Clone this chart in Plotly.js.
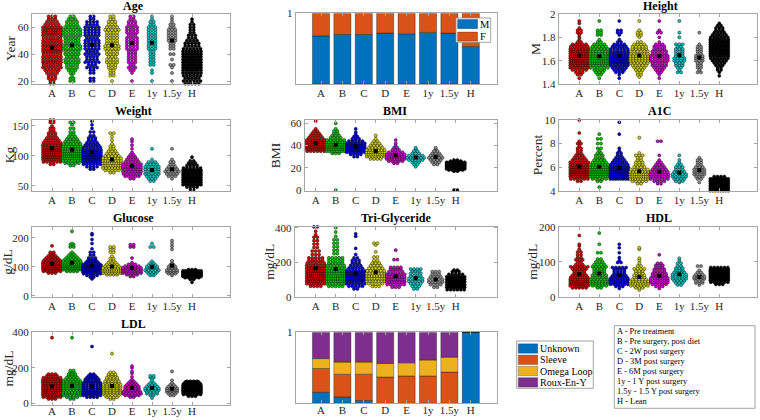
<!DOCTYPE html>
<html><head><meta charset="utf-8">
<script src="https://cdn.plot.ly/plotly-3.0.1.min.js"></script>
<style>html,body{margin:0;padding:0;background:#fff;font-family:"Liberation Serif",serif}#chart{width:760px;height:420px}</style>
</head><body><div id="chart"></div>
<script>
// ---------- DATA ----------
const groups = ['A','B','C','D','E','1y','1.5y','H'];
// swarm data: for each group, flat list of (value, count) pairs
const age = [
 [18,2,20,2,22,3,24,3,26,4,28,5,30,7,32,6,34,8,36,7,38,7,40,6,42,8,44,7,46,8,48,7,50,7,52,6,54,7,56,8,58,8,60,7,62,5,64,4,66,3,68,3,70,2],
 [20,2,22,2,24,1,26,2,28,3,30,4,32,4,34,5,36,5,38,4,40,5,42,5,44,6,46,6,48,5,50,5,52,5,54,6,56,6,58,6,60,5,62,4,64,4,66,3,68,2,70,2],
 [20,2,22,2,26,2,28,2,30,4,32,3,34,5,36,4,38,4,40,5,42,4,44,5,46,5,48,5,50,5,52,4,54,5,56,5,58,5,60,5,62,4,64,4,66,2,68,2,70,2],
 [20,1,24,2,26,2,28,2,30,3,32,3,34,4,36,4,38,3,40,4,42,4,44,5,46,5,48,4,50,4,52,4,54,4,56,4,58,5,60,4,62,3,64,3,66,2,68,2,70,1],
 [20,1,26,1,28,2,30,3,32,2,34,3,36,3,38,3,40,3,42,3,44,4,46,4,48,4,50,4,52,4,54,3,56,4,58,4,60,4,62,3,64,3,66,2,68,2,70,2],
 [20,1,26,1,28,1,32,2,34,2,36,2,38,2,40,2,42,2,44,3,46,3,48,3,50,3,52,3,54,3,56,3,58,3,60,3,62,2,64,2,66,1,68,1,70,1],
 [20,1,26,1,30,1,32,2,36,1,40,2,44,2,46,2,48,2,50,3,52,3,54,3,56,3,58,3,60,2,62,2,64,1,66,1,68,1,70,1],
 [18,5,20,6,22,5,24,6,26,7,28,8,30,9,32,9,34,9,36,10,38,9,40,8,42,7,44,6,46,5,48,5,50,4,52,3,54,3,56,2,58,2,60,2,62,2,64,1,66,1,70,2]
];
const height = [
 [1.45,1,1.48,2,1.50,3,1.52,5,1.54,7,1.56,8,1.58,10,1.60,11,1.62,10,1.64,9,1.66,9,1.68,8,1.70,7,1.72,6,1.74,5,1.76,2,1.78,1,1.80,1,1.82,1,1.84,2,1.86,2,1.88,1,1.92,1,1.94,1],
 [1.45,1,1.48,2,1.50,3,1.52,4,1.54,6,1.56,7,1.58,9,1.60,9,1.62,8,1.64,8,1.66,7,1.68,7,1.70,6,1.72,5,1.74,4,1.76,2,1.78,1,1.82,2,1.84,2,1.86,2,1.94,1],
 [1.45,1,1.48,1,1.50,3,1.52,4,1.54,5,1.56,6,1.58,8,1.60,9,1.62,8,1.64,7,1.66,7,1.68,6,1.70,6,1.72,5,1.74,4,1.76,2,1.78,1,1.82,1,1.84,2,1.86,2,1.94,1],
 [1.46,1,1.48,2,1.50,2,1.52,3,1.54,4,1.56,5,1.58,6,1.60,7,1.62,7,1.64,7,1.66,6,1.68,6,1.70,5,1.72,5,1.74,4,1.76,2,1.80,1,1.82,2,1.84,2,1.86,1,1.94,1],
 [1.45,1,1.48,1,1.50,2,1.52,3,1.54,4,1.56,5,1.58,5,1.60,6,1.62,6,1.64,6,1.66,5,1.68,5,1.70,4,1.72,4,1.74,3,1.76,1,1.80,1,1.84,2,1.86,1,1.94,1],
 [1.50,2,1.52,1,1.54,2,1.56,3,1.58,3,1.60,4,1.62,4,1.64,3,1.66,3,1.68,3,1.70,3,1.72,2,1.74,3,1.80,1,1.84,1,1.94,1],
 [1.50,2,1.52,1,1.54,2,1.56,2,1.58,2,1.60,3,1.62,3,1.64,3,1.66,2,1.68,2,1.70,2,1.72,2,1.74,1,1.84,1],
 [1.47,1,1.50,1,1.52,2,1.54,2,1.56,3,1.58,4,1.60,5,1.62,6,1.64,7,1.66,8,1.68,9,1.70,9,1.72,9,1.74,8,1.76,8,1.78,7,1.80,6,1.82,5,1.84,4,1.86,3,1.88,3,1.90,2,1.92,1]
];
const weight = [
 [86,2,90,6,94,9,98,10,102,11,106,11,110,10,114,8,118,7,122,6,126,5,130,4,134,3,138,3,142,2,146,2,150,1,156,2,160,2],
 [84,2,88,5,92,7,96,9,100,10,104,10,108,9,112,8,116,7,120,6,124,5,128,4,132,3,136,2,140,2,146,2,152,1,156,2],
 [78,2,82,4,86,6,90,8,94,9,98,10,102,9,106,8,110,7,114,6,118,5,122,4,126,3,130,3,134,2,140,2,146,1,152,1,158,1],
 [72,2,76,5,80,7,84,8,88,9,92,8,96,7,100,5,104,4,108,3,112,2,116,2,120,1,126,1,132,1,138,2],
 [62,2,66,5,70,6,74,7,78,8,82,8,86,7,90,5,94,4,98,3,102,2,106,1,112,1,118,1,124,1,128,1],
 [58,2,62,3,66,4,70,5,74,5,78,5,82,5,86,4,90,3,94,1,112,1],
 [62,1,66,3,70,4,74,5,78,4,82,3,86,2,90,2,94,1,112,1],
 [44,2,48,4,52,8,56,11,60,13,64,14,68,13,72,11,76,9,80,6,84,4,88,3,92,2,98,1]
];
const bmi = [
 [35,6,37,10,39,12,41,11,43,10,45,7,47,5,49,4,51,3,53,2,55,1,62,1],
 [0,1,33,3,35,8,37,11,39,12,41,11,43,9,45,6,47,4,49,3,51,2,53,2,55,1,60,1],
 [30,2,32,4,34,7,36,9,38,10,40,9,42,7,44,5,46,3,48,2,50,1,52,1,55,1],
 [28,4,30,7,32,9,34,9,36,7,38,5,40,4,42,3,44,2,46,1,49,1],
 [24,2,26,5,28,8,30,8,32,7,34,5,36,3,38,2,40,1,42,1,45,1],
 [21,1,23,2,25,3,27,5,29,6,31,5,33,3,35,2,37,1,38,1],
 [23,2,25,3,27,4,29,5,31,4,33,3,35,2,37,1,38,1],
 [0,2,17,2,18,5,19,10,20,14,21,16,22,16,23,14,24,11,25,7,26,4,27,2]
];
const a1c = [
 [4.8,2,5.0,6,5.2,10,5.4,12,5.6,13,5.8,12,6.0,10,6.2,8,6.4,7,6.6,5,6.8,4,7.0,3,7.2,2,7.4,2,7.6,2,7.8,1,8.0,2,8.2,1,8.9,1,10,1],
 [4.3,1,4.8,2,5.0,5,5.2,8,5.4,10,5.6,10,5.8,9,6.0,8,6.2,7,6.4,5,6.6,4,6.8,3,7.0,3,7.2,2,7.4,1,7.6,2,8.0,2,8.4,2,8.8,1],
 [5.0,8,5.2,9,5.4,10,5.6,9,5.8,8,6.0,7,6.2,6,6.4,5,6.6,4,6.8,3,7.0,2,7.2,2,7.4,1,7.6,1,8.8,1,9.8,1],
 [4.6,2,4.8,5,5.0,8,5.2,9,5.4,9,5.6,7,5.8,6,6.0,4,6.2,3,6.4,3,6.6,2,6.8,2,7.0,3,7.2,1,8.5,1],
 [4.6,2,4.8,4,5.0,6,5.2,7,5.4,7,5.6,6,5.8,5,6.0,4,6.2,3,6.4,2,6.6,1,7.0,1,8.2,2],
 [4.7,1,4.8,3,5.0,4,5.2,5,5.4,5,5.6,4,5.8,3,6.0,3,6.2,2,6.4,1,6.6,1,7.0,1],
 [4.7,1,5.0,2,5.2,3,5.4,4,5.6,4,5.8,4,6.0,3,6.2,2,6.4,2,6.6,2,6.8,1],
 [4.0,8,4.2,14,4.4,18,4.6,18,4.8,14,5.0,10,5.2,4]
];
const glucose = [
 [78,3,84,6,90,9,96,11,102,10,108,9,114,8,120,6,126,5,132,4,138,3,144,2,150,2,172,1,240,1],
 [84,4,90,9,96,12,102,12,108,10,114,8,120,6,126,5,132,4,138,3,144,2,150,1,168,2,176,2,180,1,222,1],
 [58,1,64,2,70,4,76,6,82,8,88,9,94,9,100,8,106,7,112,5,118,4,124,3,130,3,140,2,150,2,162,1,180,1,194,1,210,1,214,1],
 [72,4,78,7,84,9,90,9,96,7,102,5,108,4,114,3,120,2,128,2,136,1,150,2,160,2,168,2],
 [66,2,72,4,78,7,84,8,90,8,96,7,102,5,108,3,114,1,130,1,168,2,176,2],
 [70,2,76,3,82,4,88,5,94,4,100,4,106,3,112,2,118,1,168,2,180,1],
 [70,1,76,3,82,4,88,4,94,3,100,3,106,2,112,1,120,1,160,1,170,1,180,1,190,1],
 [46,1,56,2,62,5,66,9,70,13,74,15,78,15,82,12,86,8,90,3]
];
const triglyceride = [
 [60,4,75,8,90,10,105,11,120,10,135,10,150,9,165,8,180,7,195,6,210,5,225,5,245,3,265,3,285,2,305,2,325,2,345,2,360,1,380,1,405,2],
 [60,5,75,7,90,9,105,9,120,9,135,8,150,8,165,7,180,6,195,5,210,5,225,5,250,2,270,2,290,2,310,2,330,2,350,1,375,1,400,1],
 [45,2,60,5,75,7,90,8,105,9,120,9,135,8,150,7,165,5,180,4,195,3,210,3,225,2,245,1,280,1,350,1,365,1],
 [60,3,75,5,90,7,105,8,120,8,135,7,150,6,165,5,180,4,195,3,210,2,230,2,260,1,300,1,310,2],
 [55,3,70,6,85,8,100,9,115,8,130,7,145,5,160,4,170,4,215,2,270,1],
 [45,2,60,3,75,4,90,5,105,5,120,4,135,4,150,3,160,4],
 [55,2,70,4,85,5,100,5,115,4,130,3,145,3],
 [40,6,55,12,70,16,85,17,100,15,115,10,130,5,145,3,155,2]
];
const hdl = [
 [26,5,32,9,38,11,44,10,50,8,56,6,62,5,68,4,74,4,80,5,86,6,92,3,100,2,106,3,112,2,120,2,128,2,136,1,145,1,150,1,175,1],
 [26,2,32,5,38,7,44,7,50,6,56,5,62,5,68,4,74,4,80,4,86,5,92,4,100,3,108,2,126,2,150,1,182,1],
 [24,1,30,3,36,6,42,7,48,7,54,6,60,5,66,4,72,4,78,4,84,5,98,2,104,1,112,1,126,1,140,1,150,1],
 [20,1,26,3,32,6,38,8,44,7,50,5,56,4,62,4,68,3,74,3,80,4,88,2,96,1,104,1,110,1,136,1,140,1],
 [24,1,30,3,36,5,42,6,48,6,54,6,60,5,66,5,72,4,78,4,84,3,90,3,96,2,120,1],
 [34,2,40,3,46,4,52,5,58,5,64,5,70,4,76,3,82,3,88,2,96,2,104,1,110,1],
 [34,1,40,3,46,3,52,4,58,4,64,3,70,2,76,1,88,2],
 [36,3,42,6,48,9,54,11,60,12,66,12,72,11,78,9,84,6]
];
const ldl = [
 [25,3,35,6,45,8,55,9,65,8,75,7,85,7,95,7,105,8,115,8,125,8,135,7,145,6,155,4,165,3,370,1],
 [25,2,35,4,45,6,55,7,65,7,75,6,85,6,95,6,105,6,115,6,125,6,135,5,145,4,155,3,165,3,175,2,185,2,370,1],
 [35,4,45,6,55,7,65,7,75,6,85,6,95,6,105,6,115,6,125,5,135,5,145,4,155,3,165,2,320,1],
 [25,2,35,4,45,5,55,6,65,6,75,6,85,6,95,6,105,6,115,5,125,5,135,4,145,4,155,3,165,3,175,2,280,1],
 [35,2,45,5,55,7,65,6,75,5,85,5,95,5,105,4,115,3,125,2,135,1,150,1,170,1,180,1,200,1,210,1],
 [30,1,45,2,55,4,65,4,75,5,85,5,95,4,105,3,115,2,130,1,145,2,155,2],
 [45,2,55,3,65,4,75,4,85,4,95,3,105,2,115,1,130,1,180,1],
 [40,3,50,6,60,10,70,13,80,14,90,11,100,8,110,6,120,5,125,4]
];
// proportions
const genderM = [0.68,0.70,0.70,0.72,0.71,0.73,0.72,0.53];
const genderF = [0.32,0.30,0.30,0.28,0.29,0.27,0.28,0.47];
const surgUnknown = [0.155,0.09,0.04,0,0,0,0,1];
const surgSleeve  = [0.335,0.32,0.37,0.37,0.385,0.385,0.44,0];
const surgOmega   = [0.14,0.17,0.17,0.19,0.185,0.225,0.21,0];
const surgRoux    = [0.37,0.42,0.42,0.44,0.43,0.39,0.35,0];
const genderNames = ['M','F'];
const surgNames = ['Unknown','Sleeve','Omega Loop','Roux-En-Y'];
const groupLegend = ['A - Pre treatment','B - Pre surgery, post diet','C - 2W post surgery','D - 3M post surgery',
  'E - 6M post surgery','1y - 1 Y post surgery','1.5y - 1.5 Y post surgery','H - Lean'];

// ---------- STYLE / LAYOUT ----------
const W = 760, H = 420;
const FONT = 'Liberation Serif';
const INK = '#262626';
const groupColors = ['#e00000','#00cc00','#0000e0','#d2d200','#d200d2','#00c8c8','#8c8c8c','#000000'];
const barColors = ['#0072BD','#D95319','#EDB120','#7E2F8E'];

const panels = [
 {data:age, title:'Age', yt:'Year', box:[32,230,14,84], ax:52, sp:20, yr:[17.8,69.8], tv:[20,40,60], tt:[133,6.5], ytx:10},
 {bar:'gender', box:[295.7,496.7,13.3,84], ax:321, sp:21.4, yr:[0,1], tv:[1]},
 {data:height, title:'Height', yt:'M', box:[558.7,757,14,84], ax:579.3, sp:20, yr:[1.4,2.0], tv:[1.4,1.6,1.8,2], tt:[660,6.5], ytx:535},
 {data:weight, title:'Weight', yt:'Kg', box:[32,230,120,190.7], ax:52, sp:20, yr:[42,160], tv:[50,100,150], tt:[133,111.5], ytx:9},
 {data:bmi, title:'BMI', yt:'BMI', box:[304.7,496.7,120,190.7], ax:315.7, sp:20, yr:[-0.6,63], tv:[0,20,40,60], tt:[395,111.5], ytx:275},
 {data:a1c, title:'A1C', yt:'Percent', box:[558.7,757,120,190.7], ax:579.3, sp:20, yr:[4,10], tv:[4,6,8,10], tt:[659,111.5], ytx:537},
 {data:glucose, title:'Glucose', yt:'g/dL', box:[32,230,226.7,297], ax:52, sp:20, yr:[-4.5,238], tv:[0,100,200], tt:[133,218], ytx:8},
 {data:triglyceride, title:'Tri-Glyceride', yt:'mg/dL', box:[294.7,496.7,226.7,297], ax:315.7, sp:20, yr:[-2,406], tv:[0,200,400], tt:[396,218], ytx:270},
 {data:hdl, title:'HDL', yt:'mg/dL', box:[558.7,757,226.7,297], ax:579.3, sp:20, yr:[0,200], tv:[0,100,200], tt:[659,218], ytx:533},
 {data:ldl, title:'LDL', yt:'mg/dL', box:[32,230,332.3,404.5], ax:52, sp:20, yr:[-6,400], tv:[0,200,400], tt:[133,324], ytx:8, xstand:-4},
 {bar:'surgery', box:[295.7,496.7,332.3,403.3], ax:321, sp:21.4, yr:[0,1], tv:[1], xstand:-4}
];

const px = x => x / W, py = y => 1 - y / H;
const traces = [];
const layout = {
  width: W, height: H, margin: {l:0, r:0, t:0, b:0},
  paper_bgcolor: '#fff', plot_bgcolor: '#fff',
  showlegend: false, barmode: 'overlay',
  font: {family: FONT, color: INK, size: 11},
  annotations: [], shapes: []
};
const xs8 = groups.map((g, i) => i + 1);

function expand(pairs) {
  const vals = [];
  for (let k = 0; k < pairs.length; k += 2) for (let c = 0; c < pairs[k+1]; c++) vals.push(pairs[k]);
  return vals;
}

panels.forEach((p, i) => {
  const n = i + 1, xa = 'x' + n, ya = 'y' + n;
  const [x0, x1, y0, y1] = p.box;
  const xr = [1 - (p.ax - x0) / p.sp, 8 + (x1 - (p.ax + 7 * p.sp)) / p.sp];
  const axCommon = {showline:true, mirror:'ticks', linecolor:'#a6a6a6', linewidth:1, ticks:'inside', ticklen:3,
    tickcolor:'#a6a6a6', showgrid:false, zeroline:false, fixedrange:true,
    tickfont:{family:FONT, size:11, color:INK}};
  layout['xaxis' + n] = Object.assign({}, axCommon, {domain:[px(x0), px(x1)], range:xr, anchor:ya,
    tickmode:'array', tickvals:xs8, ticktext:groups, ticklabelstandoff:(p.xstand || -1)});
  layout['yaxis' + n] = Object.assign({}, axCommon, {domain:[py(y1), py(y0)], range:p.yr, anchor:xa,
    tickmode:'array', tickvals:p.tv, ticktext:p.tv.map(v => String(v))});

  if (p.bar === 'gender') {
    traces.push({type:'bar', x:xs8, y:genderM, base:xs8.map(() => 0), width:0.8, name:genderNames[0],
      marker:{color:barColors[0], line:{color:'rgba(0,0,0,0.55)', width:0.6}}, xaxis:xa, yaxis:ya, hoverinfo:'skip'});
    traces.push({type:'bar', x:xs8, y:genderF, base:genderM, width:0.8, name:genderNames[1],
      marker:{color:barColors[1], line:{color:'rgba(0,0,0,0.55)', width:0.6}}, xaxis:xa, yaxis:ya, hoverinfo:'skip'});
    return;
  }
  if (p.bar === 'surgery') {
    const series = [surgUnknown, surgSleeve, surgOmega, surgRoux];
    let base = xs8.map(() => 0);
    series.forEach((s, k) => {
      traces.push({type:'bar', x:xs8, y:s, base:base.slice(), width:0.8, name:surgNames[k],
        marker:{color:barColors[k], line:{color:'rgba(0,0,0,0.55)', width:0.6}}, xaxis:xa, yaxis:ya, hoverinfo:'skip'});
      base = base.map((b, j) => b + s[j]);
    });
    return;
  }
  // swarm panels
  const means = [], sds = [];
  p.data.forEach((pairs, gi) => {
    const X = [], Y = [];
    for (let k = 0; k < pairs.length; k += 2) {
      const v = pairs[k], c = pairs[k+1];
      const s = c > 1 ? Math.min(3.4, 18 / (c - 1)) : 0;
      for (let j = 0; j < c; j++) { X.push(gi + 1 + (j - (c - 1) / 2) * s / p.sp); Y.push(v); }
    }
    traces.push({type:'scatter', mode:'markers', x:X, y:Y, xaxis:xa, yaxis:ya, cliponaxis:false, hoverinfo:'skip',
      marker:{size:3.1, color:groupColors[gi], line:{color:'rgba(0,0,0,0.75)', width:0.6}}});
    const vals = expand(pairs);
    const m = vals.reduce((a, b) => a + b, 0) / vals.length;
    const sd = Math.sqrt(vals.reduce((a, b) => a + (b - m) * (b - m), 0) / vals.length);
    means.push(m); sds.push(sd);
  });
  traces.push({type:'bar', x:xs8, base:means.map((m, j) => m - sds[j]), y:sds.map(s => 2 * s), width:0.28,
    marker:{color:'rgba(225,225,225,0.4)', line:{width:0}}, xaxis:xa, yaxis:ya, hoverinfo:'skip'});
  traces.push({type:'scatter', mode:'markers', x:xs8, y:means, xaxis:xa, yaxis:ya, hoverinfo:'skip',
    marker:{symbol:'square', size:4, color:'#000', line:{width:0}}});

  layout.annotations.push({xref:'paper', yref:'paper', x:px(p.tt[0]), y:py(p.tt[1]), xanchor:'center', yanchor:'middle',
    text:'<b>' + p.title + '</b>', showarrow:false, font:{family:FONT, size:12, color:'#000'}});
  layout.annotations.push({xref:'paper', yref:'paper', x:px(p.ytx), y:py((y0 + y1) / 2), xanchor:'center', yanchor:'middle',
    text:p.yt, textangle:-90, showarrow:false, font:{family:FONT, size:13.5, color:INK}});
});

// manual legends
function rect(x0, y0, x1, y1, fill, line, lw) {
  layout.shapes.push({type:'rect', xref:'paper', yref:'paper', x0:px(x0), x1:px(x1), y0:py(y1), y1:py(y0),
    fillcolor:fill, line:{color:line, width:lw}, layer:'above'});
}
function label(x, y, t, size) {
  layout.annotations.push({xref:'paper', yref:'paper', x:px(x), y:py(y), xanchor:'left', yanchor:'middle',
    text:t, showarrow:false, borderpad:0, font:{family:FONT, size:size, color:'#000'}});
}
// gender legend
rect(456, 18, 490.7, 42.3, '#fff', '#8c8c8c', 0.8);
genderNames.forEach((nm, k) => {
  rect(457.6, 19.5 + k * 12.5, 477.6, 28.7 + k * 12.5, barColors[k], 'rgba(0,0,0,0.5)', 0.5);
  label(478.5, 24.2 + k * 12.5, nm, 10.5);
});
// surgery legend
rect(516.7, 341, 593.3, 388.3, '#fff', '#8c8c8c', 0.8);
surgNames.forEach((nm, k) => {
  rect(518.3, 343.8 + k * 11.3, 537.7, 353.2 + k * 11.3, barColors[k], 'rgba(0,0,0,0.5)', 0.5);
  label(538.5, 348.5 + k * 11.3, nm, 10);
});
// group description box
rect(614.3, 325.7, 755, 408.3, '#fff', '#8c8c8c', 0.8);
groupLegend.forEach((t, k) => label(616, 331.8 + k * 10, t, 8.4));

Plotly.newPlot('chart', traces, layout, {staticPlot:true, displayModeBar:false});
</script></body></html>
